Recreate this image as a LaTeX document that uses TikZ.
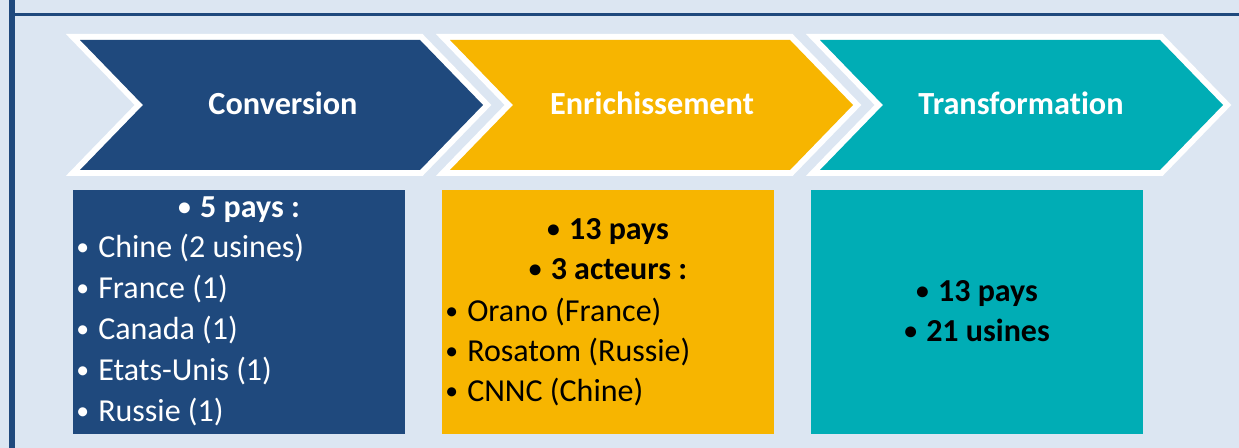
\documentclass[tikz,border=0pt]{standalone}
\usepackage{fontspec}
\setmainfont{Carlito}[Ligatures=NoCommon]
\usepackage{tikz}

\definecolor{backblue}{RGB}{220,230,242}
\definecolor{frameblue}{RGB}{31,73,125}
\definecolor{convblue}{RGB}{31,73,125}
\definecolor{enryellow}{RGB}{247,181,0}
\definecolor{transteal}{RGB}{0,173,181}

\tikzset{
  chevron/.style={fill=#1, preaction={draw=white, line width=9pt, line join=miter}},
  headtext/.style={anchor=base, inner sep=0pt, text=white, font=\fontsize{24.2}{28}\selectfont\bfseries},
  lineleft/.style={anchor=base west, inner sep=0pt, font=\fontsize{24}{30}\selectfont},
  linemid/.style={anchor=base, inner sep=0pt, font=\fontsize{24}{30}\selectfont\bfseries},
}
\newcommand{\bul}{\makebox[16.5pt][l]{\raisebox{0.08em}{\scalebox{0.8}{•}}}}

\begin{document}
\begin{tikzpicture}[x=0.75pt,y=0.75pt,yscale=-1,xscale=1]
        \useasboundingbox (0,0) rectangle (1239,448);
        \fill[backblue] (0,0) rectangle (1239,448);
        \draw[frameblue, line width=4.5pt] (12,0) -- (12,448);
        \draw[frameblue, line width=1.9pt] (12,14.5) -- (1239,14.5);

        % chevrons
        \path[chevron=convblue] (80,40) -- (420,40) -- (483,105) -- (420,170) -- (80,170) -- (143,105) -- cycle;
        \path[chevron=enryellow] (450,40) -- (790,40) -- (853,105) -- (790,170) -- (450,170) -- (513,105) -- cycle;
        \path[chevron=transteal] (820,40) -- (1160,40) -- (1223,105) -- (1160,170) -- (820,170) -- (883,105) -- cycle;

        \node (conv) at (283,115) [headtext] {Conversion};
        \node (enr) at (652,115) [headtext] {Enrichissement};
        \node (trans) at (1021,115) [headtext] {Transformation};

        % boxes
        \fill[convblue] (73,190) rectangle (405,434);
        \fill[enryellow] (442,190) rectangle (774,434);
        \fill[transteal] (811,190) rectangle (1143,434);

        \node (conv-pays) at (239,218) [linemid, text=white] {\bul 5 pays :};
        \node (conv-chine) at (76,258) [lineleft, text=white] {\bul Chine (2 usines)};
        \node (conv-france) at (76,299) [lineleft, text=white] {\bul France (1)};
        \node (conv-canada) at (76,340) [lineleft, text=white] {\bul Canada (1)};
        \node (conv-usa) at (76,381) [lineleft, text=white] {\bul Etats-Unis (1)};
        \node (conv-russie) at (76,422) [lineleft, text=white] {\bul Russie (1)};

        \node (enr-pays) at (608,240) [linemid] {\bul 13 pays};
        \node (enr-acteurs) at (608,280) [linemid] {\bul 3 acteurs :};
        \node (enr-orano) at (445,322) [lineleft] {\bul Orano (France)};
        \node (enr-rosatom) at (445,362) [lineleft] {\bul Rosatom (Russie)};
        \node (enr-cnnc) at (445,402) [lineleft] {\bul CNNC (Chine)};

        \node (trans-pays) at (977,302) [linemid] {\bul 13 pays};
        \node (trans-usines) at (977,342) [linemid] {\bul 21 usines};
\end{tikzpicture}
\end{document}
